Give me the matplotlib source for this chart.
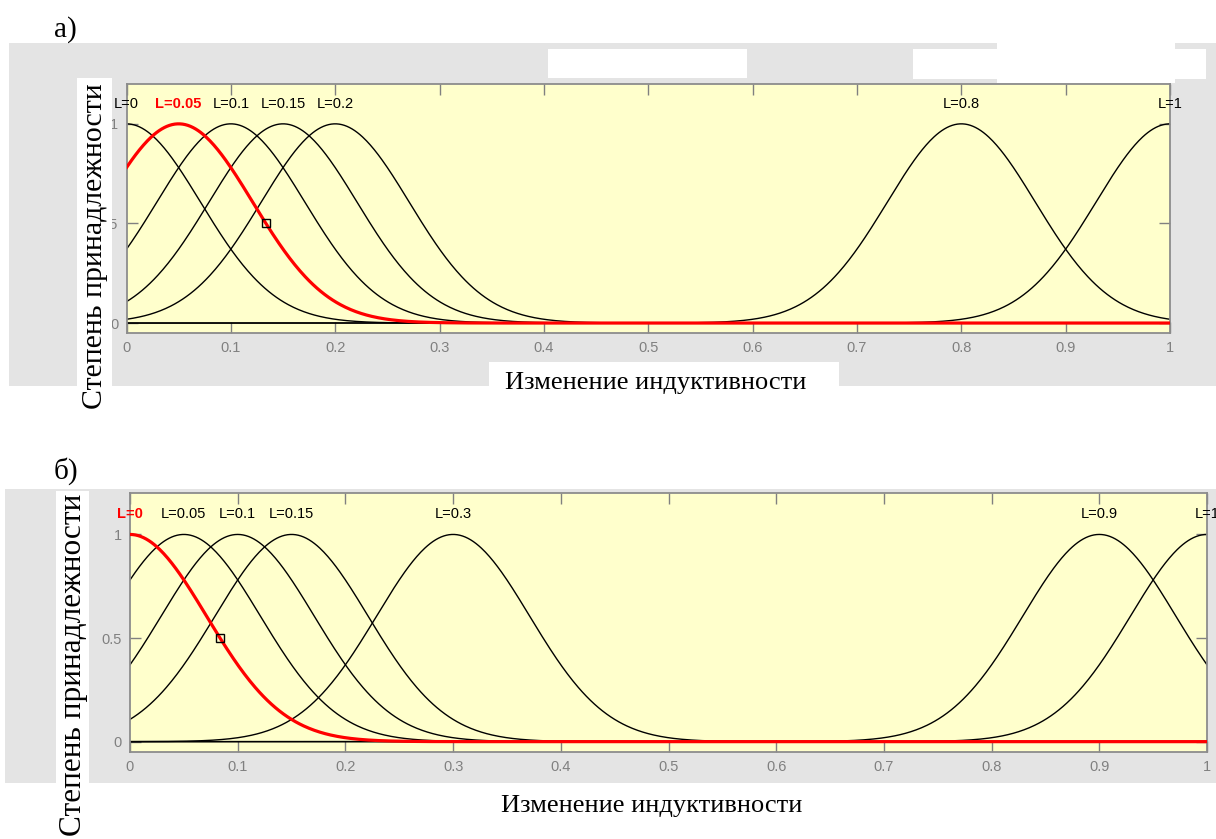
import numpy as np
import matplotlib
matplotlib.use("Agg")
import matplotlib.pyplot as plt
from matplotlib.patches import Rectangle

# ---------------- data ----------------
centers_a = [0.0, 0.05, 0.1, 0.15, 0.2, 0.8, 1.0]
labels_a = ["L=0", "L=0.05", "L=0.1", "L=0.15", "L=0.2", "L=0.8", "L=1"]
highlight_a = 1

centers_b = [0.0, 0.05, 0.1, 0.15, 0.3, 0.9, 1.0]
labels_b = ["L=0", "L=0.05", "L=0.1", "L=0.15", "L=0.3", "L=0.9", "L=1"]
highlight_b = 0

sigma = 0.071
x_ticks = [0, 0.1, 0.2, 0.3, 0.4, 0.5, 0.6, 0.7, 0.8, 0.9, 1]
x_tick_labels = ["0", "0.1", "0.2", "0.3", "0.4", "0.5", "0.6", "0.7", "0.8", "0.9", "1"]
y_ticks = [0, 0.5, 1]
y_tick_labels = ["0", "0.5", "1"]
xlabel = "Изменение индуктивности"
ylabel = "Степень принадлежности"

# ---------------- layout ----------------
W, H = 1216, 839
fig = plt.figure(figsize=(W / 100, H / 100), dpi=100)
fig.patch.set_facecolor("white")

GRAY = "#e4e4e4"
YELLOW = "#ffffcc"
SPINE = "#8c8c8c"
TICKC = "#808080"


def rect(x0, y0, x1, y1, color, z):
    fig.patches.append(Rectangle((x0 / W, 1 - y1 / H), (x1 - x0) / W, (y1 - y0) / H,
                                 transform=fig.transFigure, facecolor=color,
                                 edgecolor="none", zorder=z, figure=fig))


def axes_px(x0, y0, x1, y1):
    return fig.add_axes([x0 / W, 1 - y1 / H, (x1 - x0) / W, (y1 - y0) / H])


def gauss(x, c):
    return np.exp(-((x - c) ** 2) / (2 * sigma ** 2))


def draw_panel(ax, centers, labels, hi):
    ax.set_facecolor(YELLOW)
    x = np.linspace(0, 1, 801)
    for i, c in enumerate(centers):
        if i == hi:
            continue
        ax.plot(x, gauss(x, c), color="black", lw=1.0, zorder=2)
    ax.plot(x, gauss(x, centers[hi]), color="#ff0000", lw=2.3, zorder=3)
    xh = centers[hi] + sigma * np.sqrt(2 * np.log(2))
    ax.plot([xh], [0.5], marker="s", ms=6, mfc="none", mec="black", mew=1.0, zorder=4)
    for i, (c, lab) in enumerate(zip(centers, labels)):
        if i == hi:
            ax.text(c, 1.1, lab, ha="center", va="center", color="#ff0000",
                    fontweight="bold", fontsize=10.5, family="Liberation Sans", clip_on=False)
        else:
            ax.text(c, 1.1, lab, ha="center", va="center", color="black",
                    fontsize=10.5, family="Liberation Sans", clip_on=False)
    ax.set_xlim(0, 1)
    ax.set_ylim(-0.05, 1.2)
    ax.set_xticks(x_ticks)
    ax.set_xticklabels(x_tick_labels)
    ax.set_yticks(y_ticks)
    ax.set_yticklabels(y_tick_labels)
    ax.tick_params(direction="in", length=8, width=1, color=TICKC, labelcolor=TICKC,
                   labelsize=10.5, top=True, right=True, pad=6)
    for lab in ax.get_xticklabels() + ax.get_yticklabels():
        lab.set_family("Liberation Sans")
    for s in ax.spines.values():
        s.set_color(SPINE)
        s.set_linewidth(1.3)


# panel a backgrounds
rect(9, 43, 1216, 386, GRAY, -2)
rect(548, 49, 747, 78, "white", 1)
rect(913, 49, 1206, 79, "white", 1)
rect(997, 43, 1175, 83, "white", 1)
rect(77, 78, 112, 420, "white", 1)
rect(489, 362, 839, 400, "white", 1)

# panel b backgrounds
rect(5, 489, 1216, 783, GRAY, -2)
rect(56, 491, 89, 839, "white", 1)

ax_a = axes_px(126.5, 84, 1170, 333)
draw_panel(ax_a, centers_a, labels_a, highlight_a)

ax_b = axes_px(130, 493, 1207, 752)
draw_panel(ax_b, centers_b, labels_b, highlight_b)

serif = "Liberation Serif"
fig.text(65 / W, 1 - 30 / H, "а)", ha="center", va="center", fontsize=21, family=serif, zorder=5)
fig.text(66 / W, 1 - 471 / H, "б)", ha="center", va="center", fontsize=21, family=serif, zorder=5)

fig.text(656 / W, 1 - 383 / H, xlabel, ha="center", va="center", fontsize=19, family=serif, zorder=5)
fig.text(652 / W, 1 - 806 / H, xlabel, ha="center", va="center", fontsize=19, family=serif, zorder=5)

fig.text(95 / W, 1 - 246 / H, ylabel, ha="center", va="center", rotation=90,
         fontsize=21.5, family=serif, zorder=5)
fig.text(74 / W, 1 - 665 / H, ylabel, ha="center", va="center", rotation=90,
         fontsize=22.5, family=serif, zorder=5)

fig.savefig("out.png", dpi=100, facecolor="white")
